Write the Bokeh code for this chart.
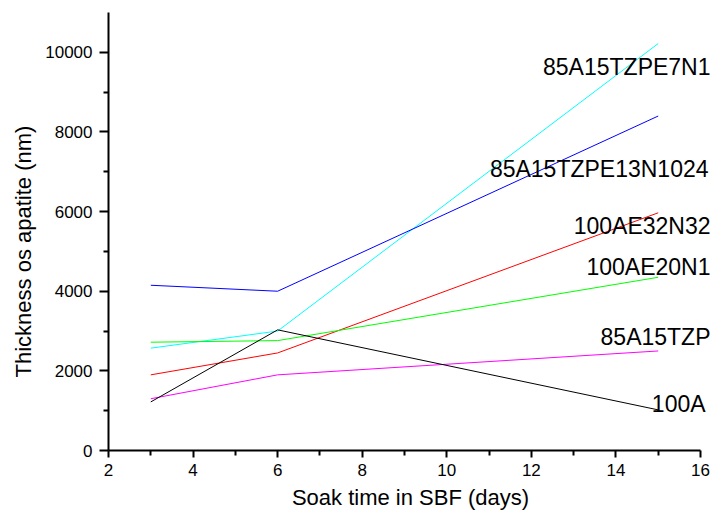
from bokeh.plotting import figure
from bokeh.models import Range1d, FixedTicker, ColumnDataSource, LabelSet, Title
from bokeh.core.properties import value
from bokeh.embed import file_html
from bokeh.resources import INLINE

# Data
days = [3, 6, 15]
series_names = ["85A15TZPE7N1", "85A15TZPE13N1024", "100AE32N32", "100AE20N1", "85A15TZP", "100A"]
s_85A15TZPE7N1 = [2570, 3000, 10220]
s_85A15TZPE13N1024 = [4150, 4000, 8400]
s_100AE32N32 = [1900, 2450, 5970]
s_100AE20N1 = [2720, 2760, 4350]
s_85A15TZP = [1300, 1900, 2500]
s_100A = [1220, 3030, 1020]
series_values = [s_85A15TZPE7N1, s_85A15TZPE13N1024, s_100AE32N32, s_100AE20N1, s_85A15TZP, s_100A]
colors = ["#00ffff", "#0000ff", "#ff0000", "#00ff00", "#ff00ff", "#000000"]

# label anchor positions (data units, right edge / vertical middle)
label_x = [16.237, 16.19, 16.237, 16.237, 16.237, 16.12]
label_y = [9623, 7080, 5649, 4602, 2845, 1180]

x_ticks = [2, 4, 6, 8, 10, 12, 14, 16]
x_minor = [3, 5, 7, 9, 11, 13, 15]
y_ticks = [0, 2000, 4000, 6000, 8000, 10000]
y_minor = [1000, 3000, 5000, 7000, 9000]

p = figure(width=712, height=518, output_backend="svg", toolbar_location=None,
           x_range=Range1d(2, 16.284), y_range=Range1d(0, 11000),
           min_border_left=108, min_border_right=0, min_border_top=12, min_border_bottom=68)
p.outline_line_color = None
p.xgrid.grid_line_color = None
p.ygrid.grid_line_color = None
p.background_fill_color = "white"

for vals, c in zip(series_values, colors):
    p.line(days, vals, line_color=c, line_width=1)

src = ColumnDataSource(dict(x=label_x, y=label_y, t=series_names))
labels = LabelSet(x="x", y="y", text="t", source=src, text_align="right",
                  text_baseline="middle", text_font=value("Liberation Sans"),
                  text_font_size="23px", text_color="black")
p.add_layout(labels)

for ax in (p.xaxis[0], p.yaxis[0]):
    ax.axis_line_color = "black"
    ax.axis_line_width = 2
    ax.major_tick_line_color = "black"
    ax.major_tick_line_width = 2
    ax.minor_tick_line_color = "black"
    ax.minor_tick_line_width = 2
    ax.major_tick_in = 0
    ax.major_tick_out = 7
    ax.minor_tick_in = 0
    ax.minor_tick_out = 5
    ax.major_label_text_font = "Liberation Sans"
    ax.major_label_text_font_size = "17px"
    ax.major_label_text_color = "black"
    ax.axis_label_text_font = "Liberation Sans"
    ax.axis_label_text_font_size = "22px"
    ax.axis_label_text_font_style = "normal"
    ax.axis_label_text_color = "black"

p.yaxis[0].major_tick_out = 9
p.xaxis[0].bounds = (2, 16)
p.xaxis[0].ticker = FixedTicker(ticks=x_ticks, minor_ticks=x_minor)
p.yaxis[0].ticker = FixedTicker(ticks=y_ticks, minor_ticks=y_minor)
p.xaxis[0].axis_label = "Soak time in SBF (days)"
p.xaxis[0].major_label_standoff = 6
p.yaxis[0].major_label_standoff = 7
p.xaxis[0].axis_label_standoff = 6

ytitle = Title(text="Thickness os apatite (nm)", align="left", offset=73,
               text_font="Liberation Sans", text_font_size="22px",
               text_font_style="normal", text_color="black", standoff=13)
p.add_layout(ytitle, "left")

open("out.html", "w").write(file_html(p, INLINE))
